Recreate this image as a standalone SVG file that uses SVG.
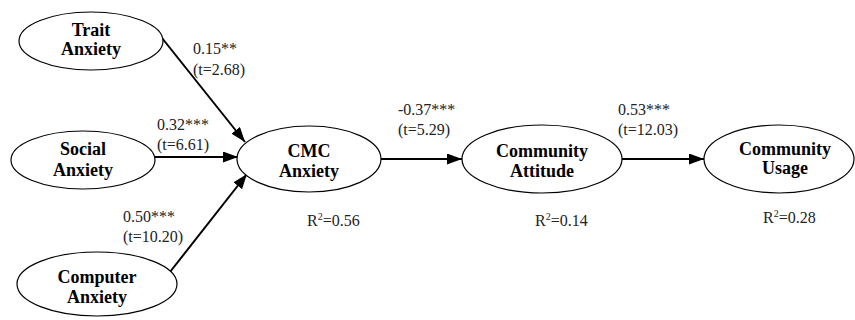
<svg xmlns="http://www.w3.org/2000/svg" width="855" height="320" viewBox="0 0 855 320">
<defs>
<marker id="ah" markerWidth="15" markerHeight="11" refX="15" refY="5.5" orient="auto" markerUnits="userSpaceOnUse">
<path d="M0,0 L15,5.5 L0,11 Z" fill="#000"/>
</marker>
<style>
.node ellipse{fill:#fff;stroke:#000;stroke-width:1.2}
.node text{font-family:"Liberation Serif","Times New Roman",serif;font-weight:bold;font-size:18px;text-anchor:middle;fill:#000}
.lbl{font-family:"Liberation Serif","Times New Roman",serif;font-size:16px;fill:#222}
.edge{stroke:#000;stroke-width:2;fill:none;marker-end:url(#ah)}
</style>
</defs>
<rect width="855" height="320" fill="#fff"/>
<g id="connectors">
<line class="edge" x1="162" y1="38" x2="245" y2="142"/>
<line class="edge" x1="153" y1="157" x2="238" y2="157"/>
<line class="edge" x1="170" y1="272" x2="247" y2="174"/>
<line class="edge" x1="380" y1="159" x2="462" y2="159"/>
<line class="edge" x1="622" y1="159" x2="704" y2="159"/>
</g>
<g id="trait" class="node">
<ellipse cx="91" cy="41" rx="72" ry="29"/>
<text x="91" y="36">Trait</text>
<text x="91" y="55">Anxiety</text>
</g>
<g id="social" class="node">
<ellipse cx="83" cy="160" rx="72" ry="29"/>
<text x="83" y="155">Social</text>
<text x="83" y="176">Anxiety</text>
</g>
<g id="computer" class="node">
<ellipse cx="97" cy="284" rx="80" ry="32"/>
<text x="97" y="283">Computer</text>
<text x="97" y="303">Anxiety</text>
</g>
<g id="cmc" class="node">
<ellipse cx="309" cy="159" rx="72" ry="33"/>
<text x="309" y="157">CMC</text>
<text x="309" y="177">Anxiety</text>
</g>
<g id="attitude" class="node">
<ellipse cx="542" cy="159" rx="80" ry="34"/>
<text x="542" y="157">Community</text>
<text x="542" y="177">Attitude</text>
</g>
<g id="usage" class="node">
<ellipse cx="779" cy="159" rx="75" ry="34"/>
<text x="785" y="155">Community</text>
<text x="785" y="174">Usage</text>
</g>
<g id="labels">
<text class="lbl" x="193" y="54">0.15**</text>
<text class="lbl" x="193" y="75">(t=2.68)</text>
<text class="lbl" x="157" y="130">0.32***</text>
<text class="lbl" x="157" y="150">(t=6.61)</text>
<text class="lbl" x="123" y="222">0.50***</text>
<text class="lbl" x="123" y="242">(t=10.20)</text>
<text class="lbl" x="398" y="115">-0.37***</text>
<text class="lbl" x="398" y="135">(t=5.29)</text>
<text class="lbl" x="618" y="115">0.53***</text>
<text class="lbl" x="618" y="135">(t=12.03)</text>
<text class="lbl" x="307" y="226">R<tspan dy="-6" font-size="10">2</tspan><tspan dy="6">=0.56</tspan></text>
<text class="lbl" x="535" y="226">R<tspan dy="-6" font-size="10">2</tspan><tspan dy="6">=0.14</tspan></text>
<text class="lbl" x="763" y="223">R<tspan dy="-6" font-size="10">2</tspan><tspan dy="6">=0.28</tspan></text>
</g>
</svg>
